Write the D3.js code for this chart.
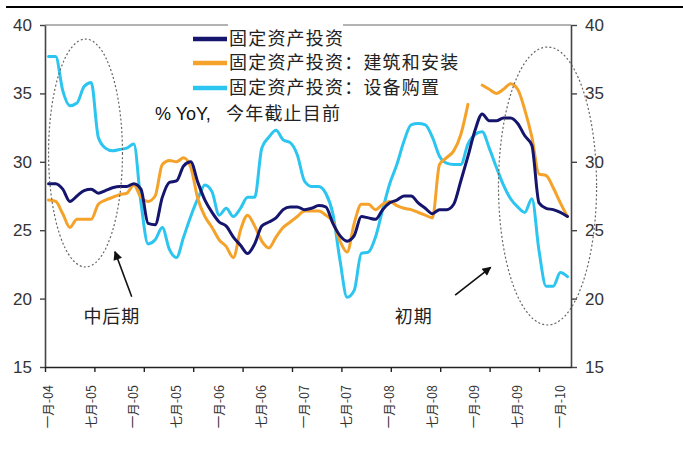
<!DOCTYPE html>
<html><head><meta charset="utf-8">
<script src="https://cdn.jsdelivr.net/npm/d3@7"></script>
<style>
html,body{margin:0;padding:0;background:#fff;}
svg{display:block;}
</style></head>
<body>
<svg id="chart" width="683" height="460"></svg>
<script>
// ---- data (monthly, Jan-2004 .. Feb-2010) ----
const months = d3.range(74); // index 0 = 一月-04
const tickLabels = ["一月-04","七月-05","一月-05","七月-05","一月-06","七月-06","一月-07","七月-07","一月-08","七月-08","一月-09","七月-09","一月-10"];
const labelIndex = [0,6,12,18,24,30,36,42,48,54,60,66,72];
const yTicks = [15,20,25,30,35,40];
const seriesNames = ["固定资产投资","固定资产投资：建筑和安装","固定资产投资：设备购置"];
const unitLabelLatin = "% YoY, ";
const unitLabelCJK = "今年截止目前";
const noteLeft = "中后期";
const noteRight = "初期";

const fai = [28.4,28.4,28.0,27.1,27.5,27.9,28.0,27.7,27.9,28.1,28.2,28.2,28.4,28.0,25.5,25.4,27.4,28.5,28.6,29.7,30.0,28.5,27.2,26.3,25.6,25.3,24.5,23.9,23.3,24.0,25.3,25.6,25.9,26.5,26.7,26.7,26.5,26.6,26.8,26.7,25.5,24.6,24.2,24.6,26.0,25.9,25.8,26.5,27.0,27.2,27.5,27.5,27.0,26.6,26.2,26.5,26.5,26.9,28.6,30.4,32.3,33.5,33.0,33.0,33.2,33.2,32.8,31.9,31.2,27.0,26.6,26.5,26.3,26.0];
const construction = [27.2,27.1,26.2,25.2,25.8,25.8,25.8,26.9,27.2,27.4,27.6,27.7,28.3,27.4,27.1,27.5,29.8,30.1,30.0,30.3,29.6,27.3,26.0,25.2,24.3,23.8,23.0,25.0,26.1,25.3,24.2,23.7,24.5,25.2,25.6,26.0,26.4,26.4,26.4,26.1,25.6,24.2,23.4,25.5,26.9,26.9,26.5,26.9,27.1,26.8,26.6,26.5,26.3,26.1,25.9,29.8,30.3,30.8,32.0,34.2,null,35.6,35.3,35.0,35.3,35.7,35.3,33.8,31.8,29.1,29.0,28.1,27.0,26.0];
const equipment = [37.7,37.7,35.2,34.1,34.3,35.5,35.8,31.8,31.0,30.8,30.9,31.0,31.3,27.0,24.0,24.3,25.2,23.6,23.0,24.5,26.0,27.3,28.3,27.8,26.1,26.6,26.0,26.6,27.4,27.4,31.0,31.8,32.3,31.6,31.4,30.5,28.6,28.2,28.2,27.7,26.2,22.8,20.1,20.6,23.3,23.4,24.5,26.5,28.4,29.8,31.5,32.7,32.8,32.7,31.8,30.4,29.9,29.8,29.8,31.3,32.0,32.2,31.0,29.6,28.3,27.3,26.7,26.3,27.3,23.5,20.9,20.9,21.9,21.6];

const svg = d3.select("#chart");
const x = d3.scaleLinear().domain([-0.5, 73.5]).range([45, 571]);
const y = d3.scaleLinear().domain([15, 40]).range([367, 25]);

const colors = {fai:"#15156e", con:"#f5a22a", eq:"#2cc5ef"};
const sansFont = "'Liberation Sans', Arial, sans-serif";
const cjkFont = "'Noto Sans CJK SC', sans-serif";

// top rule
svg.append("line").attr("x1",6).attr("x2",683).attr("y1",7).attr("y2",7)
  .attr("stroke","#000").attr("stroke-width",2.2);

// plot top border
svg.append("line").attr("x1",x.range()[0]).attr("x2",x.range()[1]).attr("y1",y(40)).attr("y2",y(40))
  .attr("stroke","#9a9a9a").attr("stroke-width",1.5);

// axes
const leftAxis = svg.append("g").attr("transform",`translate(${x.range()[0]},0)`)
  .call(d3.axisLeft(y).tickValues(yTicks).tickSize(5).tickPadding(8).tickSizeOuter(0));
const rightAxis = svg.append("g").attr("transform",`translate(${x.range()[1]},0)`)
  .call(d3.axisRight(y).tickValues(yTicks).tickSize(6).tickPadding(8).tickSizeOuter(0));
[leftAxis,rightAxis].forEach(g=>{
  g.selectAll("path.domain").attr("stroke","#444").attr("stroke-width",1.6);
  g.selectAll(".tick line").attr("stroke","#444").attr("stroke-width",1.4);
  g.selectAll(".tick text").attr("font-family",sansFont).attr("font-size",17).attr("fill","#333");
});
const xTickVals = d3.range(11).map(k => -0.5 + k*6.95);
const bottomAxis = svg.append("g").attr("transform",`translate(0,${y(15)})`)
  .call(d3.axisBottom(x).tickValues(xTickVals).tickSize(5).tickSizeOuter(0).tickFormat(""));
bottomAxis.selectAll("path.domain").attr("stroke","#222").attr("stroke-width",1.6);
bottomAxis.selectAll(".tick line").attr("stroke","#222").attr("stroke-width",1.4);

// x labels (rotated)
svg.append("g").selectAll("text").data(labelIndex).join("text")
  .attr("transform", d => `translate(${x(d)},385) rotate(-90)`)
  .attr("text-anchor","end").attr("dy","0.35em")
  .attr("font-family",cjkFont).attr("font-size",12.5).attr("fill","#333")
  .text((d,i)=>tickLabels[i]);

// lines
const line = d3.line().defined(d=>d!=null).x((d,i)=>x(i)).y(d=>y(d)).curve(d3.curveMonotoneX);
const lineFor = arr => d3.line().defined(d=>d!=null).x((d,i)=>x(months[i])).y(d=>y(d)).curve(d3.curveMonotoneX)(arr);
[[equipment,colors.eq],[construction,colors.con],[fai,colors.fai]].forEach(([arr,c])=>{
  svg.append("path").attr("d",lineFor(arr)).attr("fill","none").attr("stroke",c)
    .attr("stroke-width",3).attr("stroke-linejoin","round").attr("stroke-linecap","round");
});

// dashed ellipses (in data coordinates)
const ellipses = [
  {cx:5.2, cy:30.64, rxIdx:5.2, ryVal:8.33},
  {cx:70.2, cy:28.23, rxIdx:6.9, ryVal:10.16}
];
ellipses.forEach(e=>{
  svg.append("ellipse")
    .attr("cx",x(e.cx)).attr("cy",y(e.cy))
    .attr("rx",x(e.cx+e.rxIdx)-x(e.cx)).attr("ry",y(e.cy-e.ryVal)-y(e.cy))
    .attr("fill","none").attr("stroke","#666").attr("stroke-width",1.2).attr("stroke-dasharray","2,2.2");
});

// arrows
const defs = svg.append("defs");
defs.append("marker").attr("id","ah").attr("viewBox","0 0 10 10").attr("refX",9).attr("refY",5)
  .attr("markerWidth",11).attr("markerHeight",9).attr("markerUnits","userSpaceOnUse").attr("orient","auto")
  .append("path").attr("d","M0,0 L10,5 L0,10 Z").attr("fill","#111");
const arrows = [
  {x1:11.7,y1:20.14,x2:9.34,y2:23.43},
  {x1:57.2,y1:20.26,x2:62.2,y2:22.29}
];
arrows.forEach(a=>{
  svg.append("line").attr("x1",x(a.x1)).attr("y1",y(a.y1)).attr("x2",x(a.x2)).attr("y2",y(a.y2))
    .attr("stroke","#111").attr("stroke-width",1.6).attr("marker-end","url(#ah)");
});

// notes
svg.append("text").attr("x",x(4.9)).attr("y",y(18.68)).attr("dy","0.35em")
  .attr("font-family",cjkFont).attr("font-size",18).attr("letter-spacing",1).attr("fill","#222").text(noteLeft);
svg.append("text").attr("x",x(48.7)).attr("y",y(18.68)).attr("dy","0.35em")
  .attr("font-family",cjkFont).attr("font-size",18).attr("letter-spacing",1).attr("fill","#222").text(noteRight);

// legend
svg.append("rect").attr("x",228).attr("y",20).attr("width",115).attr("height",10).attr("fill","#fff");
const legendRows = [
  {name:seriesNames[0], color:colors.fai, y:39},
  {name:seriesNames[1], color:colors.con, y:63},
  {name:seriesNames[2], color:colors.eq, y:88}
];
legendRows.forEach(r=>{
  svg.append("line").attr("x1",193).attr("x2",227).attr("y1",r.y).attr("y2",r.y)
    .attr("stroke",r.color).attr("stroke-width",4.5);
  svg.append("text").attr("x",229).attr("y",r.y).attr("dy","0.36em")
    .attr("font-family",cjkFont).attr("font-size",18).attr("letter-spacing",1.2).attr("fill","#222").text(r.name);
});
const unit = svg.append("text").attr("x",155).attr("y",114).attr("dy","0.36em").attr("fill","#111");
unit.append("tspan").attr("font-family",sansFont).attr("font-size",18).text(unitLabelLatin);
unit.append("tspan").attr("x",226).attr("font-family",cjkFont).attr("font-size",18).attr("letter-spacing",1.2).attr("fill","#222").text(unitLabelCJK);
</script>
</body></html>
